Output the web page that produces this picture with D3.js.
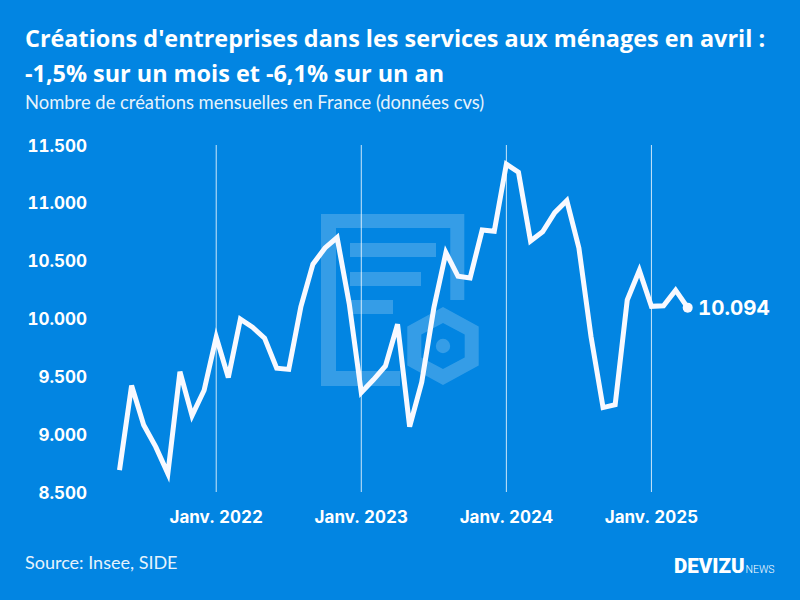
<!DOCTYPE html>
<html>
<head>
<meta charset="utf-8">
<script src="https://cdnjs.cloudflare.com/ajax/libs/d3/7.8.5/d3.min.js"></script>
<style>
html, body { margin: 0; padding: 0; background: #0285e2; }
svg { display: block; }
text { fill: #fff; }
.tick { font-family: Inter, sans-serif; font-size: 17px; font-weight: 700; font-variant-numeric: tabular-nums; }
.head { font-family: "Open Sans", sans-serif; font-size: 23.4px; font-weight: 700; }
.sub { font-family: Lato, sans-serif; font-size: 18.4px; font-weight: 400; opacity: 0.9; }
</style>
</head>
<body>
<svg id="chart" width="800" height="600"></svg>
<script>
'use strict';

// monthly values, May 2021 to April 2025
var months = d3.timeMonth.range(new Date(2021, 4, 1), new Date(2025, 4, 1));
var creations = [
    8690, 9420, 9080, 8890, 8660, 9540, 9160, 9380,
    9840, 9490, 9995, 9925, 9830, 9570, 9560, 10100, 10470, 10610, 10700, 10130,
    9360, 9470, 9590, 9950, 9065, 9450, 10090, 10570, 10365, 10350, 10765, 10755,
    11335, 11265, 10670, 10750, 10915, 11020, 10610, 9845, 9230, 9255, 10160, 10415,
    10105, 10110, 10245, 10094
];
var yTicks = [8500, 9000, 9500, 10000, 10500, 11000, 11500];
var xTicks = [new Date(2022, 0, 1), new Date(2023, 0, 1), new Date(2024, 0, 1), new Date(2025, 0, 1)];
var xTickLabels = ['Janv. 2022', 'Janv. 2023', 'Janv. 2024', 'Janv. 2025'];

var titleLines = ["Créations d'entreprises dans les services aux ménages en avril :", '-1,5% sur un mois et -6,1% sur un an'];
var subtitle = 'Nombre de créations mensuelles en France (données cvs)';
var source = 'Source: Insee, SIDE';

var svg = d3.select('#chart');

// months are evenly spaced in the original, so a point scale rather than a time scale
var x = d3.scalePoint().domain(months.map(Number)).range([119.5, 687.7]);
var y = d3.scaleLinear().domain([8500, 11500]).range([492, 145]);

function fmt(v) {
    return d3.format(',')(v).replace(',', '.');
}

// watermark logo
var logo = svg.append('g').attr('fill', '#fff').attr('opacity', 0.2);
logo.append('path')
    .attr('d', 'M321 214H464.3V300H450.3V228H336V371H400V386H321Z');
logo.append('rect').attr('x', 350).attr('y', 243).attr('width', 86).attr('height', 14);
logo.append('rect').attr('x', 350).attr('y', 272).attr('width', 71).attr('height', 14);
logo.append('rect').attr('x', 350).attr('y', 300).attr('width', 43).attr('height', 14);
var hex = function (w, h) {
    return [[0, -h], [w, -h / 2], [w, h / 2], [0, h], [-w, h / 2], [-w, -h / 2]].map(function (p) {
        return [443 + p[0], 346 + p[1]];
    });
};
logo.append('path').attr('fill-rule', 'evenodd')
    .attr('d', 'M' + hex(35.7, 39).join('L') + 'Z M' + hex(21.7, 23).join('L') + 'Z');
logo.append('circle').attr('cx', 443).attr('cy', 346).attr('r', 7.2);

// vertical grid lines
svg.append('g').selectAll('line')
    .data(xTicks)
  .enter().append('line')
    .attr('x1', function (d) { return x(+d); })
    .attr('x2', function (d) { return x(+d); })
    .attr('y1', 145)
    .attr('y2', 492)
    .attr('stroke', '#fff')
    .attr('stroke-opacity', 0.8)
    .attr('stroke-width', 1);

// axes
svg.append('g').selectAll('text')
    .data(yTicks)
  .enter().append('text')
    .attr('class', 'tick')
    .attr('x', 87)
    .attr('y', function (d) { return y(d) + 6.5; })
    .attr('text-anchor', 'end')
    .text(fmt);

svg.append('g').selectAll('text')
    .data(xTicks)
  .enter().append('text')
    .attr('class', 'tick')
    .attr('x', function (d) { return x(+d); })
    .attr('y', 523)
    .attr('text-anchor', 'middle')
    .text(function (d, i) { return xTickLabels[i]; });

// the line
var line = d3.line()
    .x(function (d, i) { return x(+months[i]); })
    .y(function (d) { return y(d); });

svg.append('path')
    .datum(creations)
    .attr('d', line)
    .attr('fill', 'none')
    .attr('stroke', '#f8f9ff')
    .attr('stroke-width', 5)
    .attr('stroke-linejoin', 'miter');

var last = creations.length - 1;
svg.append('circle')
    .attr('cx', x(+months[last]))
    .attr('cy', y(creations[last]))
    .attr('r', 5)
    .attr('fill', '#f8f9ff');
svg.append('text')
    .attr('class', 'tick')
    .attr('x', 698)
    .attr('y', y(creations[last]) + 7.5)
    .style('font-size', '20.5px')
    .text(fmt(creations[last]));

// titles
svg.append('g').selectAll('text')
    .data(titleLines)
  .enter().append('text')
    .attr('class', 'head')
    .attr('x', 25)
    .attr('y', function (d, i) { return 47 + i * 35; })
    .text(function (d) { return d; });
svg.append('text').attr('class', 'sub').attr('x', 25).attr('y', 109).text(subtitle);
svg.append('text').attr('class', 'sub').attr('x', 25).attr('y', 569).style('font-size', '18px').text(source);

// brand
svg.append('text').attr('x', 674).attr('y', 573)
    .style('font-family', 'Roboto, sans-serif').style('font-size', '20.5px').style('font-weight', 900)
    .text('DEVIZU');
svg.append('text').attr('x', 745.5).attr('y', 573)
    .style('font-family', 'Roboto, sans-serif').style('font-size', '10.5px').style('font-weight', 300)
    .text('NEWS');
</script>
</body>
</html>
